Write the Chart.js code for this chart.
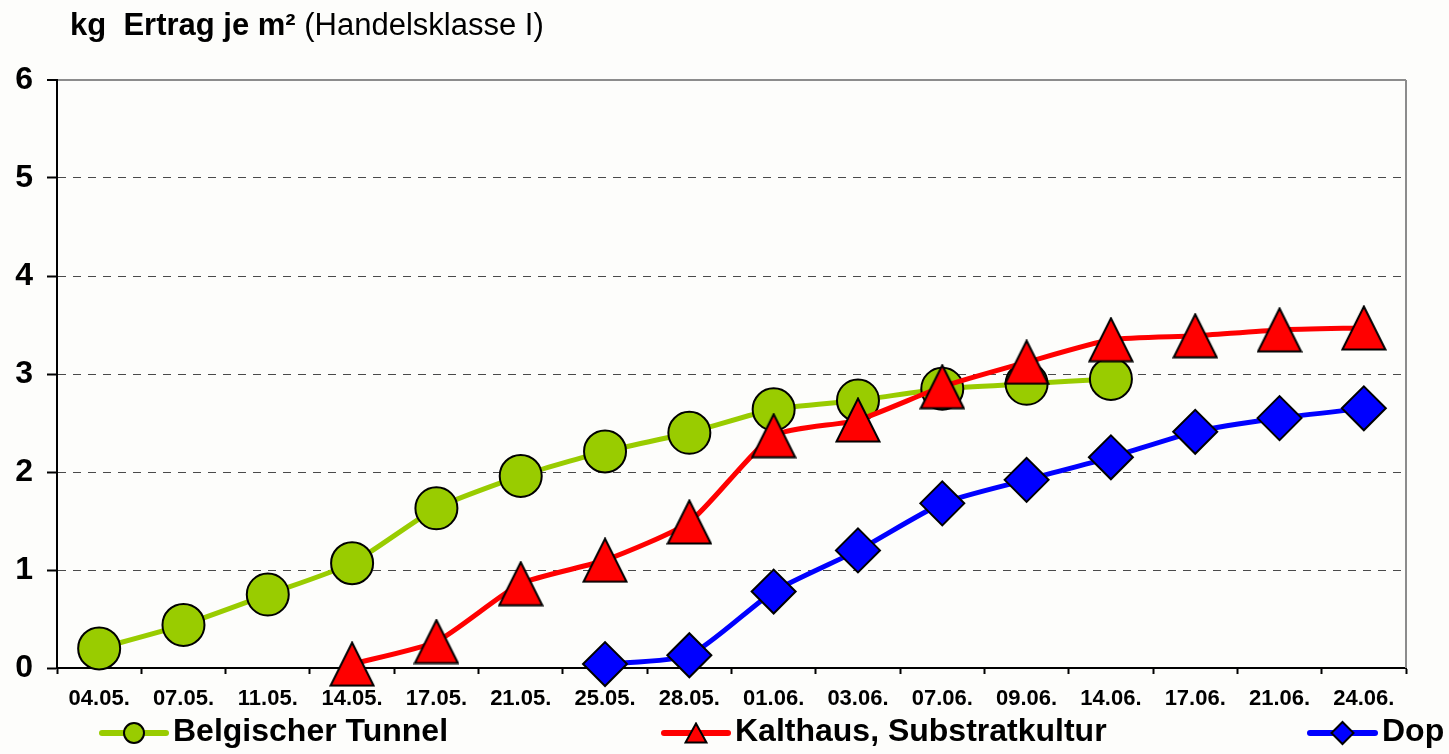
<!DOCTYPE html>
<html>
<head>
<meta charset="utf-8">
<script src="https://cdn.jsdelivr.net/npm/chart.js@4.4.1/dist/chart.umd.min.js"></script>
<style>
html,body{margin:0;padding:0;background:#fdfdfb;overflow:hidden;}
#wrap{width:1449px;height:754px;position:relative;}
</style>
</head>
<body>
<div id="wrap"><canvas id="c" width="1449" height="754"></canvas></div>
<script>
const categories = ['04.05.','07.05.','11.05.','14.05.','17.05.','21.05.','25.05.','28.05.','01.06.','03.06.','07.06.','09.06.','14.06.','17.06.','21.06.','24.06.'];
const belgischerTunnel = [0.20,0.44,0.75,1.07,1.63,1.96,2.21,2.40,2.64,2.73,2.85,2.90,2.95,null,null,null];
const kalthausSubstrat = [null,null,null,0.04,0.27,0.86,1.10,1.49,2.37,2.53,2.87,3.12,3.35,3.39,3.45,3.47];
const dop = [null,null,null,null,null,null,0.04,0.13,0.78,1.20,1.68,1.92,2.15,2.41,2.55,2.65];
const yTicks = [0,1,2,3,4,5,6];
const seriesNames = ['Belgischer Tunnel','Kalthaus, Substratkultur','Dop'];
const titleBold = 'kg  Ertrag je m²';
const titleNormal = ' (Handelsklasse I)';

function makeTriangle(w, h, lw){
  const cv = document.createElement('canvas');
  cv.width = w; cv.height = h;
  const c = cv.getContext('2d');
  c.beginPath();
  c.moveTo(w/2, lw/2+0.5);
  c.lineTo(w - lw/2 - 0.5, h - lw/2 - 0.5);
  c.lineTo(lw/2 + 0.5, h - lw/2 - 0.5);
  c.closePath();
  c.fillStyle = '#ff0000';
  c.fill();
  c.lineWidth = lw;
  c.lineJoin = 'miter';
  c.strokeStyle = '#000';
  c.stroke();
  return cv;
}
const triBig = makeTriangle(46, 46, 2);
const triSmall = makeTriangle(24, 22, 2);

const FONT = "'Liberation Sans', Arial, sans-serif";

const overlay = {
  id: 'overlay',
  afterDraw(chart){
    const ctx = chart.ctx;
    const a = chart.chartArea;
    ctx.save();
    ctx.strokeStyle = '#8c8c8c';
    ctx.lineWidth = 2;
    ctx.beginPath();
    ctx.moveTo(a.right, a.top);
    ctx.lineTo(a.right, a.bottom);
    ctx.stroke();
    ctx.fillStyle = '#000';
    ctx.textBaseline = 'alphabetic';
    ctx.font = 'bold 31px ' + FONT;
    ctx.fillText(titleBold, 70, 35);
    const w = ctx.measureText(titleBold).width;
    ctx.font = '31px ' + FONT;
    ctx.fillText(titleNormal, 70 + w, 35);
    const items = [
      {x1:102, x2:166, color:'#99cc00', marker:'circle', text: seriesNames[0], tx:173},
      {x1:664, x2:728, color:'#ff0000', marker:'tri', text: seriesNames[1], tx:735},
      {x1:1310, x2:1375, color:'#0000ff', marker:'diamond', text: seriesNames[2], tx:1382}
    ];
    const ly = 733;
    items.forEach(it => {
      ctx.strokeStyle = it.color;
      ctx.lineWidth = 6;
      ctx.lineCap = 'round';
      ctx.beginPath();
      ctx.moveTo(it.x1, ly); ctx.lineTo(it.x2, ly); ctx.stroke();
      const cx = (it.x1 + it.x2)/2;
      ctx.lineWidth = 2;
      ctx.strokeStyle = '#000';
      ctx.fillStyle = it.color;
      if (it.marker === 'circle'){
        ctx.beginPath(); ctx.arc(cx, ly, 10, 0, Math.PI*2); ctx.fill(); ctx.stroke();
      } else if (it.marker === 'diamond'){
        ctx.beginPath();
        ctx.moveTo(cx, ly-11); ctx.lineTo(cx+11, ly); ctx.lineTo(cx, ly+11); ctx.lineTo(cx-11, ly); ctx.closePath();
        ctx.fill(); ctx.stroke();
      } else {
        ctx.drawImage(triSmall, cx - triSmall.width/2, ly - triSmall.height/2);
      }
      ctx.fillStyle = '#000';
      ctx.font = 'bold 32px ' + FONT;
      ctx.textBaseline = 'middle';
      ctx.fillText(it.text, it.tx, ly - 1);
    });
    ctx.restore();
  }
};

new Chart(document.getElementById('c'), {
  type: 'line',
  data: {
    labels: categories,
    datasets: [
      {label: seriesNames[0], data: belgischerTunnel, order: 3, borderColor:'#99cc00', backgroundColor:'#99cc00', borderWidth:5,
       pointStyle:'circle', pointRadius:21, pointHoverRadius:21, pointBorderColor:'#000', pointBorderWidth:2, pointBackgroundColor:'#99cc00', tension:0.2, clip:false},
      {label: seriesNames[1], data: kalthausSubstrat, order: 2, borderColor:'#ff0000', backgroundColor:'#ff0000', borderWidth:5,
       pointStyle: triBig, pointRadius:23, tension:0.2, clip:false},
      {label: seriesNames[2], data: dop, order: 1, borderColor:'#0000ff', backgroundColor:'#0000ff', borderWidth:5,
       pointStyle:'rectRot', pointRadius:22, pointHoverRadius:22, pointBorderColor:'#000', pointBorderWidth:2, pointBackgroundColor:'#0000ff', tension:0.2, clip:false}
    ]
  },
  options: {
    responsive: false,
    animation: false,
    devicePixelRatio: 1,
    spanGaps: false,
    layout: {padding: {top: 80, right: 43, left: 0, bottom: 0}},
    plugins: {legend: {display:false}, tooltip: {enabled:false}, title:{display:false}},
    scales: {
      x: {
        offset: true,
        grid: {offset: true, drawOnChartArea: false, drawTicks: true, tickLength: 6, tickColor:'#000', tickWidth:2},
        border: {display: true, color:'#000', width:2},
        ticks: {color:'#000', font:{family: FONT, size:22, weight:'bold'}, padding:12, maxRotation:0, autoSkip:false},
        afterFit: s => { s.height = 86; }
      },
      y: {
        min: 0, max: 6,
        afterBuildTicks: s => { s.ticks = yTicks.map(v => ({value: v})); },
        grid: {
          color: c => (c.tick && c.tick.value === 0) ? 'rgba(0,0,0,0)' : (c.tick && c.tick.value === 6 ? '#8c8c8c' : '#4a4a4a'),
          lineWidth: c => (c.tick && c.tick.value === 6) ? 2 : 1,
          tickLength: 10, tickColor:'#000', tickWidth:2, tickBorderDash: []
        },
        border: {display:true, color:'#000', width:2, dash: c => (c.tick && (c.tick.value === 6)) ? [] : [8,7]},
        ticks: {color:'#000', font:{family: FONT, size:32, weight:'bold'}, padding:14},
        afterFit: s => { s.width = 57; }
      }
    }
  },
  plugins: [overlay]
});
</script>
</body>
</html>
